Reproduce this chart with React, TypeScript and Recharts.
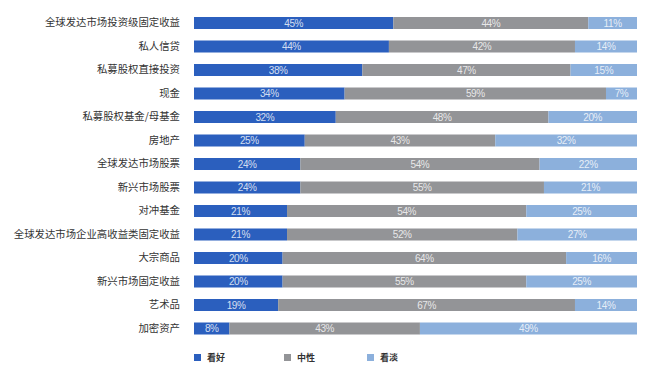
import { BarChart, Bar, XAxis, YAxis, Legend, LabelList } from 'recharts'

const categories = [
  '全球发达市场投资级固定收益',
  '私人信贷',
  '私募股权直接投资',
  '现金',
  '私募股权基金/母基金',
  '房地产',
  '全球发达市场股票',
  '新兴市场股票',
  '对冲基金',
  '全球发达市场企业高收益类固定收益',
  '大宗商品',
  '新兴市场固定收益',
  '艺术品',
  '加密资产',
]

const bullish = [45, 44, 38, 34, 32, 25, 24, 24, 21, 21, 20, 20, 19, 8]
const neutral = [44, 42, 47, 59, 48, 43, 54, 55, 54, 52, 64, 55, 67, 43]
const bearish = [11, 14, 15, 7, 20, 32, 22, 21, 25, 27, 16, 25, 14, 49]

const seriesNames = ['看好', '中性', '看淡']
const COLORS = ['#2b5fbe', '#939497', '#8cb0dc']

const data = categories.map((name, i) => ({
  name,
  bullish: bullish[i],
  neutral: neutral[i],
  bearish: bearish[i],
}))

const LABEL_STYLE = {
  fill: '#ffffff',
  fillOpacity: 0.8,
  fontSize: 10,
  letterSpacing: -0.4,
  fontFamily: '"Liberation Sans Narrow", "Liberation Sans", sans-serif',
}

const fmt = (v: any) => `${v}%`

const LegendContent = () => {
  const xs = [0, 90, 173]
  return (
    <div style={{ position: 'relative', height: 12 }}>
      {seriesNames.map((n, i) => (
        <div
          key={n}
          style={{
            position: 'absolute',
            left: xs[i],
            top: 0,
            display: 'flex',
            alignItems: 'center',
            fontSize: 9,
            fontWeight: 'bold',
            color: '#333',
            fontFamily: '"Noto Sans CJK SC", sans-serif',
          }}
        >
          <span
            style={{
              display: 'inline-block',
              width: 7,
              height: 7,
              background: COLORS[i],
              marginRight: 6,
            }}
          />
          {n}
        </div>
      ))}
    </div>
  )
}

const App = () => {
  return (
    <BarChart
      width={649}
      height={370}
      data={data}
      layout="vertical"
      barSize={12}
      margin={{ top: 3, right: 20, bottom: 26, left: 0 }}
    >
      <XAxis type="number" domain={[0, 100]} hide />
      <YAxis
        type="category"
        dataKey="name"
        width={186}
        axisLine={false}
        tickLine={false}
        tickSize={0}
        tickMargin={14}
        interval={0}
        tick={{
          fill: '#333',
          fontSize: 10.4,
          fontFamily: '"Noto Sans CJK SC", sans-serif',
        }}
      />
      <Legend
        content={<LegendContent />}
        wrapperStyle={{ position: 'absolute', top: 343, left: 186, width: 300 }}
      />
      <Bar dataKey="bullish" stackId="a" fill={COLORS[0]} isAnimationActive={false}>
        <LabelList dataKey="bullish" position="center" formatter={fmt} style={LABEL_STYLE} />
      </Bar>
      <Bar dataKey="neutral" stackId="a" fill={COLORS[1]} isAnimationActive={false}>
        <LabelList dataKey="neutral" position="center" formatter={fmt} style={LABEL_STYLE} />
      </Bar>
      <Bar dataKey="bearish" stackId="a" fill={COLORS[2]} isAnimationActive={false}>
        <LabelList dataKey="bearish" position="center" formatter={fmt} style={LABEL_STYLE} />
      </Bar>
    </BarChart>
  )
}

export default App
